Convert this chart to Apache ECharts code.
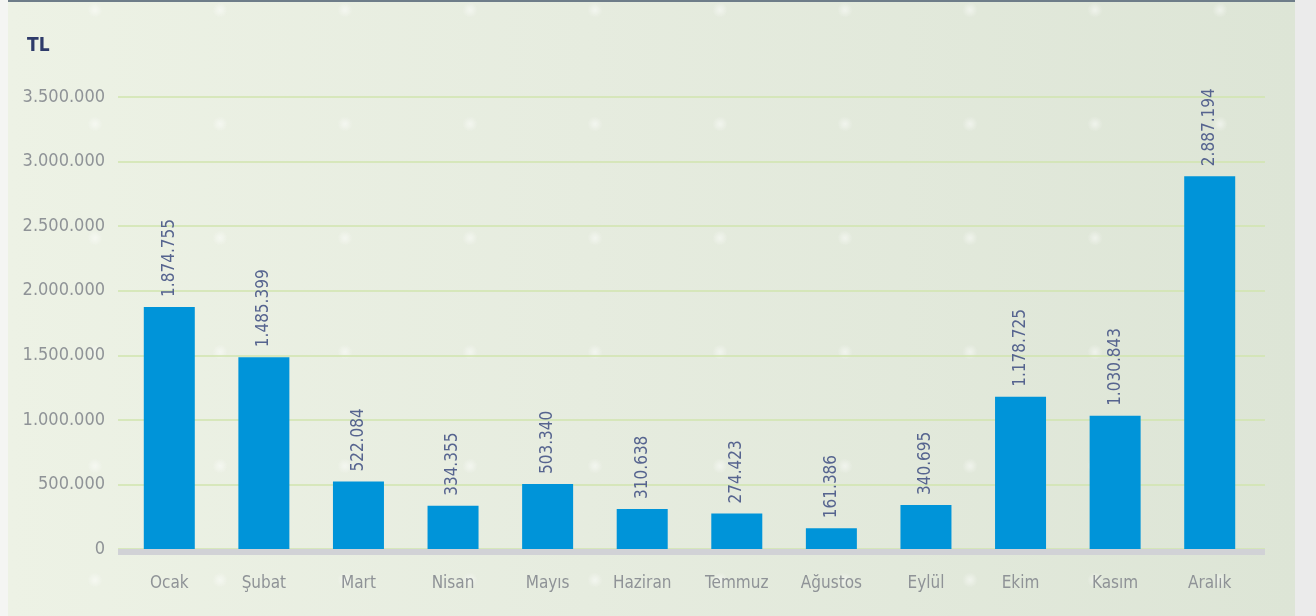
<!DOCTYPE html>
<html>
<head>
<meta charset="utf-8">
<script src="https://cdn.jsdelivr.net/npm/echarts@6/dist/echarts.min.js"></script>
<style>
  html, body { margin: 0; padding: 0; width: 1316px; height: 616px; overflow: hidden; background: #f4f5f3; }
  #panel {
    position: absolute; left: 8px; top: 0; width: 1287px; height: 616px;
    border-top: 2px solid #6e7d89; box-sizing: border-box;
    background: linear-gradient(90deg, #edf2e5 0%, #e6ecdf 45%, #dde5d6 100%);
  }
  #strip { position: absolute; left: 1295px; top: 0; width: 21px; height: 616px; background: #ebebeb; }
  #chart { position: absolute; left: 0; top: 0; width: 1316px; height: 616px; }
</style>
</head>
<body>
<div id="panel"></div>
<div id="strip"></div>
<div id="chart"></div>
<script>
// Monthly amounts in TL
const months = ['Ocak', 'Şubat', 'Mart', 'Nisan', 'Mayıs', 'Haziran', 'Temmuz', 'Ağustos', 'Eylül', 'Ekim', 'Kasım', 'Aralık'];
const amounts = [1874755, 1485399, 522084, 334355, 503340, 310638, 274423, 161386, 340695, 1178725, 1030843, 2887194];
const yMin = 0;
const yMax = 3500000;
const yStep = 500000;

const FONT = "'DejaVu Sans Condensed', 'DejaVu Sans', sans-serif";

// Turkish style thousands separator: 1.874.755
function fmt(v) {
  return String(Math.round(v)).replace(/\B(?=(\d{3})+(?!\d))/g, '.');
}

// soft light spots in the panel background
const spots = [];
for (let gx = 95; gx <= 1230; gx += 125) {
  for (let gy = 10; gy <= 600; gy += 114) {
    spots.push({
      type: 'circle', silent: true, z: -10,
      shape: { cx: gx, cy: gy, r: 8 },
      style: {
        fill: {
          type: 'radial', x: 0.5, y: 0.5, r: 0.5,
          colorStops: [
            { offset: 0, color: 'rgba(255,255,255,0.5)' },
            { offset: 1, color: 'rgba(255,255,255,0)' }
          ]
        }
      }
    });
  }
}

const chart = echarts.init(document.getElementById('chart'), null, { renderer: 'canvas' });
chart.setOption({
  backgroundColor: 'transparent',
  animation: false,
  grid: [
    // value scale with gridlines, slightly wider than the bar area
    { left: 118, right: 51, top: 97, bottom: 67 },
    // bar area
    { left: 122, right: 59, top: 97, bottom: 67 }
  ],
  graphic: spots.concat([
    { type: 'text', left: 27, top: 37, style: { text: 'TL', fill: '#2e3b6a', font: "bold 19px " + FONT } },
    // thick baseline under the bars
    { type: 'rect', shape: { x: 118, y: 549, width: 1147, height: 6 }, style: { fill: '#d1d2d6' }, z: 1 }
  ]),
  xAxis: [
    { type: 'category', gridIndex: 0, data: months, show: false },
    {
      type: 'category',
      gridIndex: 1,
      data: months,
      axisLine: { show: false },
      axisTick: { show: false },
      axisLabel: { color: '#8f9397', fontFamily: FONT, fontSize: 17, margin: 26 }
    }
  ],
  yAxis: [
    {
      type: 'value',
      gridIndex: 0,
      min: yMin, max: yMax, interval: yStep,
      axisLine: { show: false },
      axisTick: { show: false },
      splitLine: { lineStyle: { color: '#d1e5ae', width: 1.5 } },
      axisLabel: { color: '#8f9397', fontFamily: FONT, fontSize: 18, margin: 13, formatter: fmt }
    },
    {
      type: 'value',
      gridIndex: 1,
      min: yMin, max: yMax, interval: yStep,
      show: false,
      splitLine: { show: false }
    }
  ],
  series: [{
    type: 'bar',
    xAxisIndex: 1,
    yAxisIndex: 1,
    data: amounts,
    barWidth: 51,
    z: 3,
    itemStyle: { color: '#0094d9' },
    label: {
      show: true,
      position: 'top',
      rotate: 90,
      align: 'left',
      verticalAlign: 'middle',
      distance: 10,
      color: '#56648f',
      fontFamily: FONT,
      fontSize: 17,
      formatter: p => fmt(p.value)
    }
  }]
});
</script>
</body>
</html>
